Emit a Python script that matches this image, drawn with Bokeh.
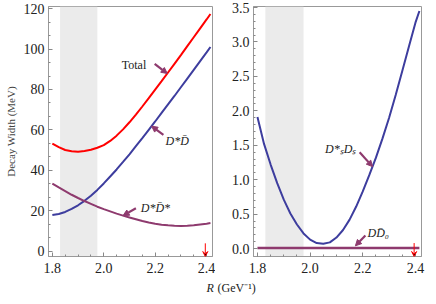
import numpy as np
from bokeh.plotting import figure
from bokeh.models import (Range1d, FixedTicker, Label, Arrow, NormalHead, VeeHead,
                          BoxAnnotation, PrintfTickFormatter)
from bokeh.layouts import column, row
from bokeh.embed import file_html
from bokeh.resources import INLINE

# ---------------- data ----------------
R = [1.800, 1.825, 1.850, 1.875, 1.900, 1.925, 1.950, 1.975, 2.000, 2.025, 2.050,
     2.075, 2.100, 2.125, 2.150, 2.175, 2.200, 2.225, 2.250, 2.275, 2.300, 2.325,
     2.350, 2.375, 2.400, 2.415]
total = [53.3, 51.5, 50.1, 49.5, 49.3, 49.6, 50.2, 51.2, 52.5, 54.6, 57.2,
         60.3, 63.8, 67.6, 71.6, 75.7, 79.9, 84.1, 88.4, 92.7, 97.0, 101.4,
         105.8, 110.2, 114.6, 117.3]
dstar_dbar = [18.0, 18.5, 19.5, 21.0, 22.8, 25.0, 27.5, 30.4, 33.6, 37.0, 40.5,
              44.2, 48.0, 52.0, 56.0, 60.1, 64.2, 68.4, 72.6, 76.8, 81.1, 85.4,
              89.7, 94.0, 98.3, 101.0]
dstar_dstarbar = [33.5, 31.6, 29.8, 28.0, 26.4, 24.9, 23.5, 22.1, 20.9, 19.8, 18.7,
                  17.7, 16.8, 15.9, 15.0, 14.3, 13.7, 13.2, 12.9, 12.7, 12.6, 12.7,
                  12.9, 13.3, 13.7, 14.0]
dsstar_ds = [1.91, 1.52, 1.22, 0.95, 0.71, 0.51, 0.35, 0.22, 0.13, 0.08, 0.07,
             0.09, 0.16, 0.27, 0.42, 0.61, 0.83, 1.07, 1.32, 1.60, 1.90, 2.23,
             2.58, 2.93, 3.28, 3.45]
d_dbar0 = [0.01] * len(R)
band = [1.83, 1.975]
marker_R = 2.395
x_ticks = [1.8, 2.0, 2.2, 2.4]
left_y_ticks = [0, 20, 40, 60, 80, 100, 120]
right_y_ticks = [0.0, 0.5, 1.0, 1.5, 2.0, 2.5, 3.0, 3.5]

RED = "#FF0000"
BLUE = "#3D3D9E"
PURPLE = "#8E3A6E"
SERIF = "Liberation Serif"


def style(p, yticks, yfmt, nminor_y):
    p.outline_line_color = "#999999"
    p.xgrid.visible = False
    p.ygrid.visible = False
    for ax in (p.xaxis[0], p.yaxis[0]):
        ax.axis_line_color = "#999999"
        ax.major_tick_in = 4
        ax.major_tick_out = 0
        ax.minor_tick_in = 2
        ax.minor_tick_out = 0
        ax.major_tick_line_color = "#888888"
        ax.minor_tick_line_color = "#888888"
        ax.major_label_text_font = SERIF
        ax.major_label_text_font_size = "14px"
        ax.major_label_text_color = "#222222"
    p.xaxis.major_label_standoff = 6
    p.yaxis.major_label_standoff = 4
    p.xaxis.ticker = FixedTicker(ticks=x_ticks, minor_ticks=list(np.round(np.arange(1.8, 2.41, 0.05), 3)))
    p.xaxis.formatter = PrintfTickFormatter(format="%.1f")
    step = (yticks[1] - yticks[0]) / nminor_y
    p.yaxis.ticker = FixedTicker(ticks=yticks,
                                 minor_ticks=list(np.round(np.arange(yticks[0], yticks[-1] + 1e-9, step), 4)))
    p.yaxis.formatter = PrintfTickFormatter(format=yfmt)
    p.add_layout(BoxAnnotation(left=band[0], right=band[1], fill_color="#EBEBEB",
                               fill_alpha=1.0, line_color=None, level="underlay"))


def pointer(p, x0, y0, x1, y1, color=PURPLE, w=2.2, size=6):
    p.add_layout(Arrow(end=NormalHead(size=size, fill_color=color, line_color=color),
                       x_start=x0, y_start=y0, x_end=x1, y_end=y1,
                       line_color=color, line_width=w))


def lab(p, x, y, text, italic=True, size="12px"):
    p.add_layout(Label(x=x, y=y, text=text, text_font=SERIF, text_font_size=size,
                       text_font_style="italic" if italic else "normal",
                       text_color="#222222", text_baseline="middle", text_align="left"))


# ---------------- left panel ----------------
p1 = figure(width=215, height=276, output_backend="svg", toolbar_location=None,
            x_range=Range1d(1.785, 2.423), y_range=Range1d(-2.5, 121),
            min_border_left=48, min_border_right=3, min_border_top=6, min_border_bottom=20)
style(p1, left_y_ticks, "%d", 3)
p1.yaxis.axis_label = "Decay Width (MeV)"
p1.yaxis.axis_label_text_font = SERIF
p1.yaxis.axis_label_text_font_style = "normal"
p1.yaxis.axis_label_text_font_size = "11px"
p1.yaxis.axis_label_standoff = 4

p1.line(R, total, line_color=RED, line_width=2)
p1.line(R, dstar_dbar, line_color=BLUE, line_width=2)
p1.line(R, dstar_dstarbar, line_color=PURPLE, line_width=2)

lab(p1, 2.07, 92.0, "Total", italic=False)
pointer(p1, 2.198, 92.7, 2.247, float(np.interp(2.247, R, total)))
lab(p1, 2.24, 54.6, "D*D\u0304")
pointer(p1, 2.232, 57.6, 2.186, float(np.interp(2.186, R, dstar_dbar)))
lab(p1, 2.144, 21.5, "D*D\u0304*")
pointer(p1, 2.125, 21.3, 2.075, float(np.interp(2.075, R, dstar_dstarbar)))
p1.add_layout(Arrow(end=VeeHead(size=5, line_color=RED, line_width=1),
                    x_start=marker_R, y_start=4.0, x_end=marker_R, y_end=-2.5,
                    line_color=RED, line_width=1))

# ---------------- right panel ----------------
p2 = figure(width=211, height=276, output_backend="svg", toolbar_location=None,
            x_range=Range1d(1.785, 2.423), y_range=Range1d(-0.115, 3.515),
            min_border_left=38, min_border_right=5, min_border_top=6, min_border_bottom=20)
style(p2, right_y_ticks, "%.1f", 5)

p2.line(R, dsstar_ds, line_color=BLUE, line_width=2)
p2.line(R, d_dbar0, line_color=PURPLE, line_width=2.5)

lab(p2, 2.057, 1.45, "D*\u209bD\u209b")
pointer(p2, 2.188, 1.40, 2.237, float(np.interp(2.237, R, dsstar_ds)))
lab(p2, 2.218, 0.22, "DD\u0304\u2080")
pointer(p2, 2.21, 0.19, 2.172, 0.04)
p2.add_layout(Arrow(end=VeeHead(size=5, line_color=RED, line_width=1),
                    x_start=marker_R, y_start=0.08, x_end=marker_R, y_end=-0.115,
                    line_color=RED, line_width=1))

# ---------------- shared x label ----------------
p3 = figure(width=426, height=20, output_backend="svg", toolbar_location=None,
            x_range=Range1d(0, 426), y_range=Range1d(0, 20),
            min_border=0)
p3.axis.visible = False
p3.grid.visible = False
p3.outline_line_color = None
p3.add_layout(Label(x=206, y=9, x_units="screen", y_units="screen", text="R",
                    text_font=SERIF, text_font_style="italic", text_font_size="12px",
                    text_color="#222222", text_baseline="middle", text_align="left"))
p3.add_layout(Label(x=217, y=9, x_units="screen", y_units="screen", text="(GeV\u207b\u00b9)",
                    text_font=SERIF, text_font_size="12px",
                    text_color="#222222", text_baseline="middle", text_align="left"))

layout = column(row(p1, p2), p3)
open("out.html", "w").write(file_html(layout, INLINE))
